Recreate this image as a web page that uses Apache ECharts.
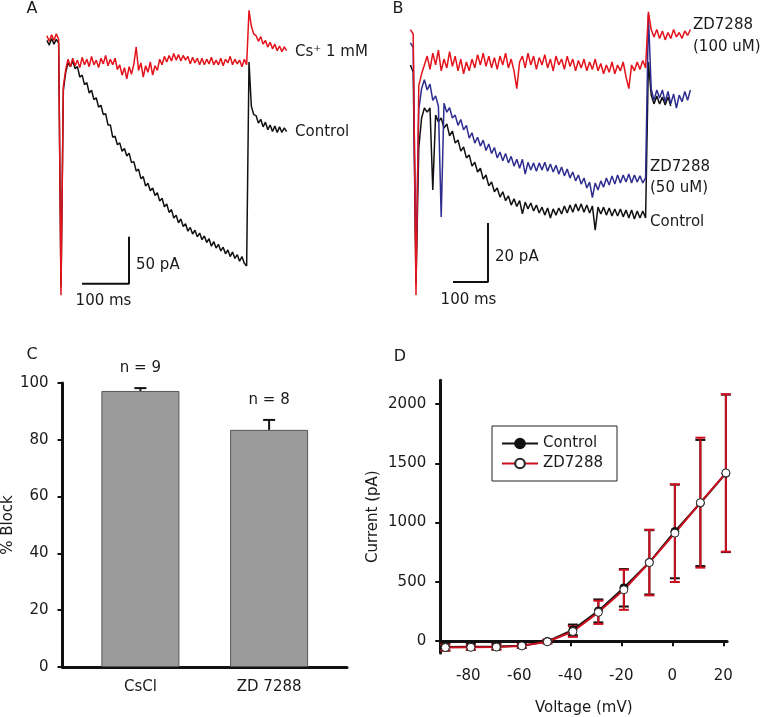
<!DOCTYPE html>
<html><head><meta charset="utf-8">
<script src="https://cdn.jsdelivr.net/npm/echarts@6/dist/echarts.min.js"></script>
<style>html,body{margin:0;padding:0;background:#fff}#c{width:767px;height:717px}</style>
</head><body><div id="c"></div>
<script>
// ---------- Panel A : traces (pA), sampled every 5 ms starting at -30 ms ----------
const aStart = -30, aStep = 5;
const aCs = [28, 22, 29, 23, 30, 24,
  -248, -26, -8,
  3, -5, 4, -4, 2, -6, 5, -3, 3, -5, 6, -3, 2, -6, 4, -2, 7, -4, 3, -3, 4, -8,
  -3, -14, -6, -18, -5, -13, -2, 16, -9, -1, -16, -4, -11, 0, -14, -4, -9,
  3, -3, 6, 0, 7, 1, 9, 2, 8, 1, 7, 2, 6, -2, 5, -1, 4, -3, 4, -3, 3, -2, 5, -3, 2, -3, 4, -4, 3, -1, 6, -3, 3, -2, 2, -5, 3, -3,
  55, 38, 30, 28, 22, 27, 19, 23, 16, 21, 14, 19, 12, 17, 11, 16, 12];
const aControl = [23, 18, 25, 19, 24, 20,
  -240,
  -30, -11, -1, -5, 1, -7, -5, -16, -14, -24, -22, -33, -30, -40, -38, -48, -46, -56, -55, -67, -67, -80, -79, -88, -86,
  -95, -92, -100, -97, -107, -106, -116, -114, -124, -122, -132, -129, -137, -134, -142, -139, -148, -145, -154, -151,
  -160, -157, -166, -163, -171, -167, -175, -172, -180, -176, -183, -179, -186, -182, -189, -185, -192, -188, -196, -191,
  -198, -194, -201, -197, -204, -200, -207, -202, -209, -205, -212, -207, -214, -217,
  0, -47, -56, -57, -65, -61, -69, -64, -72, -67, -74, -68, -75, -69, -75, -70, -74];

// ---------- Panel B : traces (pA), sampled every 8 ms starting at -16 ms ----------
const bStart = -16, bStep = 8;
const bZD100 = [11, 9.5, -79, -8, -4, -1, 2, -2.5, 3, -1,
  4, -3, 1, -2, 3.5, -1.5, 2, -3, 1, -4,
  0, -3, 1, -2, 2.5, -1, 3, -1.5, 2, -2,
  1.5, -2.5, 2, -1, 3, -2, 1, -3, -9, 0,
  2, -2, 3, -1, 2, -2.5, 1.5, -1, 2.5, -2,
  1, -3, 2, -1, 1, -2.5, 2, -1.5, 1, -3,
  0.5, -2, 1, -3, 0, -2.5, 1, -3, -0.5, -4,
  -1, -3.5, 0, -4, -1, -3, 0, -5, -9, -1,
  -3, 0, -2.5, 0.5, -2,
  17, 11, 8.5, 11, 8, 10.5, 7.5, 10, 8, 11, 8.5, 10, 8, 10.5, 9, 11];
const bZD50 = [6.5, 5, -70, -16, -9, -6, -9.5, -7.5, -13, -11.5,
  -15, -52.5, -14, -17, -15.5, -19, -18, -21.5, -19.5, -23,
  -21.5, -25.8, -24, -27.5, -25.5, -28.5, -26.5, -30, -27.8, -31,
  -29, -32.5, -30.5, -33.5, -31, -34.2, -32, -35.3, -33, -36,
  -33, -38, -34, -36.6, -34.2, -37, -34.2, -36.6, -34, -37,
  -34.6, -37.3, -35, -38, -35.6, -38.6, -36.3, -39.3, -37.3, -40.3,
  -38.3, -41.4, -39.3, -42.7, -40.7, -46, -41, -43.4, -40.3, -42.4,
  -39.3, -41.7, -38.6, -41.4, -38.3, -41, -38.3, -40.7, -38, -41,
  -38.3, -40.7, -38.6, -41, -39.3,
  16, -9, -13, -9.5, -12.2, -9.5, -13.5, -10, -14.2, -10.8, -15.6, -11.2, -13.5, -10, -13, -9.5];
const bControl = [-1, -3.5, -75, -29, -19, -15.6, -17, -15.6, -43.4, -18,
  -20.3, -19, -22.4, -21, -25, -23.4, -27.5, -26.4, -30.2, -28.8,
  -32.5, -31.5, -35.3, -34, -37.3, -36, -39.7, -38.3, -42, -40.7,
  -44, -42.7, -45.8, -44, -47, -45.4, -48.5, -46.4, -49, -47,
  -51.5, -47.5, -49.8, -47.8, -50.5, -48.5, -51.2, -49.2, -51.9, -49.5,
  -52.9, -49.8, -51.9, -49.5, -51.5, -48.8, -51.2, -48.5, -50.9, -48.1,
  -50.5, -48.1, -50.9, -48.5, -51.2, -48.8, -57, -49.2, -51.5, -49.2,
  -51.9, -49.5, -52.2, -49.8, -52.2, -49.8, -52.5, -50.2, -52.9, -50.2,
  -53.2, -50.5, -52.9, -50.5, -52.9,
  0, -11.2, -14.2, -11.5, -14.2, -11.9, -14.6, -11.9, -14.9];

// ---------- Panel C : % block ----------
const cCategories = ['CsCl', 'ZD 7288'];
const cBlock = [97.2, 83.5];
const cSem = [1.0, 3.5];
const cN = ['n = 9', 'n = 8'];

// ---------- Panel D : I-V ----------
const dVoltage = [-89, -79, -69, -59, -49, -39, -29, -19, -9, 1, 11, 21];
const dControl = [-50, -48, -46, -38, -2, 95, 255, 450, 665, 925, 1165, 1415];
const dControlSem = [30, 25, 25, 20, 15, 45, 97, 158, 271, 395, 532, 664];
const dZD = [-54, -52, -50, -40, -5, 81, 243, 433, 663, 911, 1168, 1419];
const dZDSem = [25, 20, 20, 15, 15, 45, 98, 169, 277, 412, 548, 664];
const dTicksX = [-80, -60, -40, -20, 0, 20];
const dTicksY = [0, 500, 1000, 1500, 2000];

// ---------- build ----------
const FONT = 'DejaVu Sans';
const INK = '#1a1a1a';
const RED = '#e3121b', BLUE = '#2e2d8f', DRED = '#cc1020';
const TW = 1.5;
const trace = (start, step, arr) => arr.map((v, i) => [start + i * step, v]);

const hiddenAxis = (gi, min, max) => ({gridIndex: gi, type: 'value', min, max, show: false});

function errBar(capHalf, color, upOnly) {
  return function (params, api) {
    const x = api.value(0), m = api.value(1), e = api.value(2);
    const pHi = api.coord([x, m + e]);
    const pLo = api.coord([x, upOnly ? m : m - e]);
    const st = {stroke: color, lineWidth: 2};
    const ch = [
      {type: 'line', shape: {x1: pHi[0], y1: pHi[1], x2: pLo[0], y2: pLo[1]}, style: st},
      {type: 'line', shape: {x1: pHi[0] - capHalf, y1: pHi[1], x2: pHi[0] + capHalf, y2: pHi[1]}, style: st}
    ];
    if (!upOnly) ch.push({type: 'line', shape: {x1: pLo[0] - capHalf, y1: pLo[1], x2: pLo[0] + capHalf, y2: pLo[1]}, style: st});
    return {type: 'group', children: ch};
  };
}

const txt = (text, x, y, align, size) => ({
  type: 'text', x, y, silent: true,
  style: {text, font: (size || 15) + 'px "' + FONT + '"', fill: INK, textAlign: align || 'left', textVerticalAlign: 'middle'}
});

const chart = echarts.init(document.getElementById('c'), null, {renderer: 'canvas'});
const axisTxt = {fontFamily: FONT, fontSize: 15, color: INK};

chart.setOption({
  animation: false,
  backgroundColor: '#fff',
  grid: [
    {left: 42.2, top: 5.6, width: 253.8, height: 300.8},
    {left: 409, top: 3, width: 287, height: 300.9},
    {left: 62, top: 383, width: 285, height: 284},
    {left: 440.25, top: 380.3, width: 286.9, height: 283.7}
  ],
  xAxis: [
    hiddenAxis(0, -40, 500),
    hiddenAxis(1, -20, 800),
    {gridIndex: 2, type: 'value', min: -0.605, max: 1.605,
      axisLine: {show: true, onZero: false, lineStyle: {color: '#111', width: 3}},
      axisTick: {show: false}, splitLine: {show: false},
      axisLabel: Object.assign({customValues: [0, 1], margin: 13, formatter: v => cCategories[Math.round(v)]}, axisTxt)},
    {gridIndex: 3, type: 'value', min: -91, max: 21.5,
      name: 'Voltage (mV)', nameLocation: 'middle', nameGap: 48, nameTextStyle: axisTxt,
      axisLine: {show: true, onZero: true, lineStyle: {color: '#111', width: 3}},
      axisTick: {show: true, customValues: dTicksX, length: 5, lineStyle: {color: '#111', width: 2}},
      splitLine: {show: false},
      axisLabel: Object.assign({customValues: dTicksX, margin: 16, formatter: v => String(v)}, axisTxt)}
  ],
  yAxis: [
    hiddenAxis(0, -260, 60),
    hiddenAxis(1, -82, 20),
    {gridIndex: 2, type: 'value', min: 0, max: 100, interval: 20,
      name: '% Block', nameLocation: 'middle', nameGap: 43, nameTextStyle: axisTxt,
      axisLine: {show: true, onZero: false, lineStyle: {color: '#111', width: 3}},
      axisTick: {show: true, length: 5, lineStyle: {color: '#111', width: 2}},
      splitLine: {show: false},
      axisLabel: Object.assign({margin: 14}, axisTxt)},
    {gridIndex: 3, type: 'value', min: -100, max: 2200,
      name: 'Current (pA)', nameLocation: 'middle', nameGap: 60, nameTextStyle: axisTxt,
      axisLine: {show: true, onZero: false, lineStyle: {color: '#111', width: 3}},
      axisTick: {show: true, customValues: dTicksY, length: 5, lineStyle: {color: '#111', width: 2}},
      splitLine: {show: false},
      axisLabel: Object.assign({customValues: dTicksY, margin: 14, formatter: v => String(v)}, axisTxt)}
  ],
  legend: {
    orient: 'vertical', left: 492, top: 426, padding: [10, 14, 10, 9], itemGap: 5,
    itemWidth: 36, itemHeight: 12, borderColor: '#222', borderWidth: 1, backgroundColor: '#fff',
    textStyle: axisTxt, data: ['Control', 'ZD7288']
  },
  series: [
    // Panel A
    {type: 'line', xAxisIndex: 0, yAxisIndex: 0, data: trace(aStart, aStep, aControl), symbol: 'none', silent: true,
      lineStyle: {color: '#111', width: TW}},
    {type: 'line', xAxisIndex: 0, yAxisIndex: 0, data: trace(aStart, aStep, aCs), symbol: 'none', silent: true,
      lineStyle: {color: RED, width: TW}},
    {type: 'line', xAxisIndex: 0, yAxisIndex: 0, data: [[44.7, -236], [144.7, -236], [144.7, -186]], symbol: 'none', silent: true,
      lineStyle: {color: '#111', width: 2}},
    // Panel B
    {type: 'line', xAxisIndex: 1, yAxisIndex: 1, data: trace(bStart, bStep, bControl), symbol: 'none', silent: true,
      lineStyle: {color: '#111', width: TW}},
    {type: 'line', xAxisIndex: 1, yAxisIndex: 1, data: trace(bStart, bStep, bZD50), symbol: 'none', silent: true,
      lineStyle: {color: BLUE, width: TW}},
    {type: 'line', xAxisIndex: 1, yAxisIndex: 1, data: trace(bStart, bStep, bZD100), symbol: 'none', silent: true,
      lineStyle: {color: RED, width: TW}},
    {type: 'line', xAxisIndex: 1, yAxisIndex: 1, data: [[105.7, -74.6], [205.7, -74.6], [205.7, -54.6]], symbol: 'none', silent: true,
      lineStyle: {color: '#111', width: 2}},
    // Panel C
    {type: 'bar', xAxisIndex: 2, yAxisIndex: 2, barWidth: 78, silent: true,
      data: cBlock.map((v, i) => [i, v]),
      itemStyle: {color: '#9b9b9b', borderColor: '#555', borderWidth: 1}},
    {type: 'custom', xAxisIndex: 2, yAxisIndex: 2, silent: true,
      data: cBlock.map((v, i) => [i, v, cSem[i]]),
      renderItem: function (params, api) {
        const g = errBar(6, '#111', true)(params, api);
        const p = api.coord([api.value(0), api.value(1) + api.value(2)]);
        g.children.push({type: 'text', style: {text: cN[params.dataIndex], x: p[0], y: p[1] - 20,
          font: '15px "' + FONT + '"', fill: INK, textAlign: 'center', textVerticalAlign: 'middle'}});
        return g;
      }},
    // Panel D
    {type: 'custom', xAxisIndex: 3, yAxisIndex: 3, silent: true,
      data: dVoltage.map((v, i) => [v, dControl[i], dControlSem[i]]), renderItem: errBar(5, '#111', false)},
    {name: 'Control', type: 'line', xAxisIndex: 3, yAxisIndex: 3, data: dVoltage.map((v, i) => [v, dControl[i]]),
      symbol: 'circle', symbolSize: 8, lineStyle: {color: '#111', width: 2},
      itemStyle: {color: '#111', borderColor: '#111', borderWidth: 1}},
    {type: 'custom', xAxisIndex: 3, yAxisIndex: 3, silent: true,
      data: dVoltage.map((v, i) => [v, dZD[i], dZDSem[i]]), renderItem: errBar(5, DRED, false)},
    {name: 'ZD7288', type: 'line', xAxisIndex: 3, yAxisIndex: 3, data: dVoltage.map((v, i) => [v, dZD[i]]),
      symbol: 'circle', symbolSize: 8, lineStyle: {color: DRED, width: 2},
      itemStyle: {color: '#fff', borderColor: '#222', borderWidth: 1}}
  ],
  graphic: [
    txt('A', 32, 9, 'center', 16),
    txt('B', 398, 9, 'center', 16),
    txt('C', 32, 355, 'center', 16),
    txt('D', 400, 357, 'center', 16),
    txt('Cs\u207A 1 mM', 295, 52),
    txt('Control', 295, 132),
    txt('50 pA', 136, 265),
    txt('100 ms', 103.5, 301, 'center'),
    txt('ZD7288', 693, 25),
    txt('(100 uM)', 693, 47),
    txt('ZD7288', 650, 167),
    txt('(50 uM)', 650, 188),
    txt('Control', 650, 222),
    txt('20 pA', 495, 257),
    txt('100 ms', 468.5, 300, 'center')
  ]
});
</script></body></html>
